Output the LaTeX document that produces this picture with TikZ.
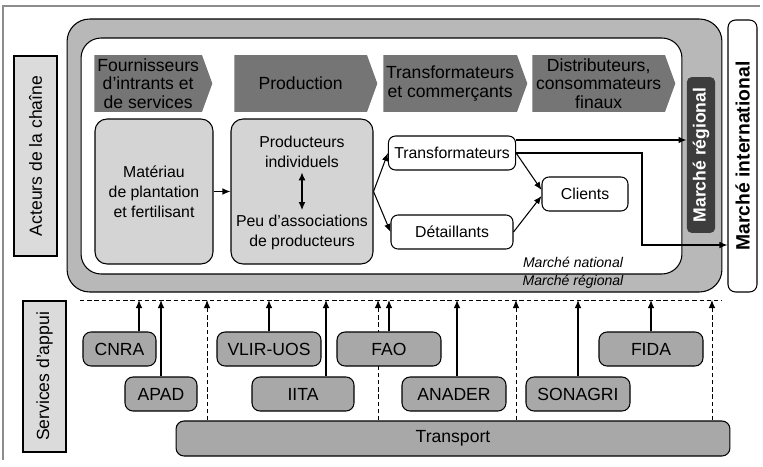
\documentclass[tikz,border=0pt]{standalone}
\usepackage{fontspec}
\setmainfont{Liberation Sans}
\usetikzlibrary{arrows.meta, shapes.symbols, backgrounds}

\definecolor{hdrgray}{gray}{0.46}
\definecolor{bandgray}{gray}{0.72}
\definecolor{bodygray}{gray}{0.83}
\definecolor{supgray}{gray}{0.66}
\definecolor{sidegray}{gray}{0.86}
\definecolor{regdark}{gray}{0.24}
\definecolor{framegray}{gray}{0.55}

\begin{document}
\begin{tikzpicture}[
        x=0.02cm, y=-0.02cm,
        side/.style={rectangle, draw=black, fill=sidegray, line width=0.6pt, rotate=90, minimum height=0.86cm, font=\fontsize{10}{12}\selectfont},
        hdr/.style={signal, signal to=east, signal pointer angle=140, fill=hdrgray, anchor=west, minimum height=1.14cm, inner sep=1pt, align=center, font=\fontsize{10}{10.5}\selectfont},
        body/.style={rectangle, draw=black, fill=bodygray, line width=0.6pt, rounded corners=0.24cm, minimum height=2.9cm, align=center, font=\fontsize{9}{11.3}\selectfont},
        btext/.style={align=center, inner sep=1pt, font=\fontsize{9}{11.3}\selectfont},
        actor/.style={rectangle, draw=black, fill=white, line width=0.6pt, rounded corners=0.14cm, minimum height=0.68cm, font=\fontsize{9}{11}\selectfont},
        support/.style={rectangle, draw=black, fill=supgray, line width=0.6pt, rounded corners=0.16cm, minimum height=0.68cm, font=\fontsize{10}{12}\selectfont},
        mkt/.style={inner sep=1pt, font=\fontsize{8}{10}\selectfont\itshape},
        flow/.style={-{Latex[length=1.6mm,width=1.3mm]}, line width=0.6pt},
        dashline/.style={line width=0.5pt, dash pattern=on 2.5pt off 1.6pt},
        darrow/.style={-{Latex[length=1.6mm,width=1.3mm]}, dashline}
    ]
        \useasboundingbox (0,0) rectangle (763,466);
        \draw[framegray, line width=0.8pt] (760,6) -| (3,460);

        % Side labels
        \node[side, minimum width=4cm] (acteurs) at (35.5,156) {Acteurs de la chaîne};
        \node[side, minimum width=3.02cm] (services) at (44.5,376.5) {Services d’appui};

        % Markets
        \node[rectangle, draw=black, fill=bandgray, line width=0.6pt, rounded corners=0.45cm, minimum width=13.1cm, minimum height=5.46cm] (regional) at (394.5,155.5) {};
        \node[rectangle, draw=black, fill=white, line width=0.6pt, rounded corners=0.4cm, minimum width=12.02cm, minimum height=4.72cm] (national) at (381.5,156) {};
        \node[rectangle, fill=regdark, rounded corners=0.1cm, rotate=90, minimum width=3.12cm, minimum height=0.52cm, text=white, font=\fontsize{10}{12}\selectfont\bfseries] (regbox) at (701,155) {Marché régional};
        \node[rectangle, draw=black, fill=white, line width=0.6pt, rounded corners=0.15cm, rotate=90, minimum width=5.44cm, minimum height=0.58cm, font=\fontsize{11}{13}\selectfont\bfseries] (intl) at (742.5,156) {Marché international};
        \node[mkt] (natlbl) at (573,262) {Marché national};
        \node[mkt] (reglbl) at (573,282) {Marché régional};

        % Stages
        \node[hdr, minimum width=2.36cm] (fourn) at (94,83.5) {Fournisseurs\\d’intrants et\\de services};
        \node[hdr, minimum width=2.86cm] (prodhdr) at (234,83.5) {Production};
        \node[hdr, minimum width=2.88cm] (transhdr) at (383,83.5) {Transformateurs\\et commerçants};
        \node[hdr, minimum width=2.86cm] (disthdr) at (532,83.5) {Distributeurs,\\consommateurs\\finaux};

        % Nodes
        \node[body, minimum width=2.36cm] (mat) at (154,191.5) {Matériau\\de plantation\\et fertilisant};
        \node[body, minimum width=2.84cm] (prod) at (302,191.5) {};
        \node[btext] (indiv) at (302,152) {Producteurs\\individuels};
        \node[btext] (assoc) at (302,232) {Peu d’associations\\de producteurs};
        \node[actor, minimum width=2.44cm] (transf) at (452,153) {Transformateurs};
        \node[actor, minimum width=2.44cm] (detail) at (452,232) {Détaillants};
        \node[actor, minimum width=1.72cm] (clients) at (585,194) {Clients};
        \coordinate (bend) at (642,245);

        % Support services
        \node[support, minimum width=1.46cm] (cnra) at (119.5,349) {CNRA};
        \node[support, minimum width=2.08cm] (vlir) at (269,349) {VLIR-UOS};
        \node[support, minimum width=2.08cm] (fao) at (389,349) {FAO};
        \node[support, minimum width=2.08cm] (fida) at (651,349) {FIDA};
        \node[support, minimum width=1.44cm] (apad) at (161,394) {APAD};
        \node[support, minimum width=2.04cm] (iita) at (303,394) {IITA};
        \node[support, minimum width=2.08cm] (anader) at (454,394) {ANADER};
        \node[support, minimum width=2.08cm] (sonagri) at (578,394) {SONAGRI};
        \node[support, minimum width=11.08cm, minimum height=0.7cm] (transport) at (453,438.5) {Transport};
        \coordinate (sl) at (80,300);
        \coordinate (sr) at (722,300);
        \draw[dashline] (sl) -- (sr);

        % Arrows
        \draw[flow] (mat) -- (prod);
        \draw[{Latex[length=1.6mm,width=1.4mm]}-{Latex[length=1.6mm,width=1.4mm]}, line width=0.8pt] ([yshift=-0.05cm]indiv.south) -- ([yshift=0.05cm]assoc.north);
        \draw[flow] (prod.east) -- (transf.west);
        \draw[flow] (prod.east) -- (detail.west);
        \draw[flow] (transf.east) -- ([yshift=0.08cm]clients.west);
        \draw[flow] (detail.east) -- ([yshift=-0.04cm]clients.west);
        \draw[flow] ([yshift=0.26cm]transf.east) -- ([yshift=0.26cm]transf.east -| regbox.north);
        \draw[flow] (transf.east) -| (bend) -- (bend -| intl.north);

        \draw[flow] ([xshift=0.39cm]cnra.north) -- ([xshift=0.39cm]cnra.north |- sl);
        \draw[flow] (apad.north) -- (apad.north |- sl);
        \draw[flow] (vlir.north) -- (vlir.north |- sl);
        \draw[flow] ([xshift=0.46cm]iita.north) -- ([xshift=0.46cm]iita.north |- sl);
        \draw[flow] (fao.north) -- (fao.north |- sl);
        \draw[flow] ([xshift=0.06cm]anader.north) -- ([xshift=0.06cm]anader.north |- sl);
        \draw[flow] (sonagri.north) -- (sonagri.north |- sl);
        \draw[flow] (fida.north) -- (fida.north |- sl);
        \begin{scope}[on background layer]
            \foreach \dx in {-4.92,-1.5,1.26,5.18}
                \draw[darrow] ([xshift=\dx cm]transport.north) -- ([xshift=\dx cm]transport.north |- sl);
        \end{scope}
    \end{tikzpicture}
\end{document}
